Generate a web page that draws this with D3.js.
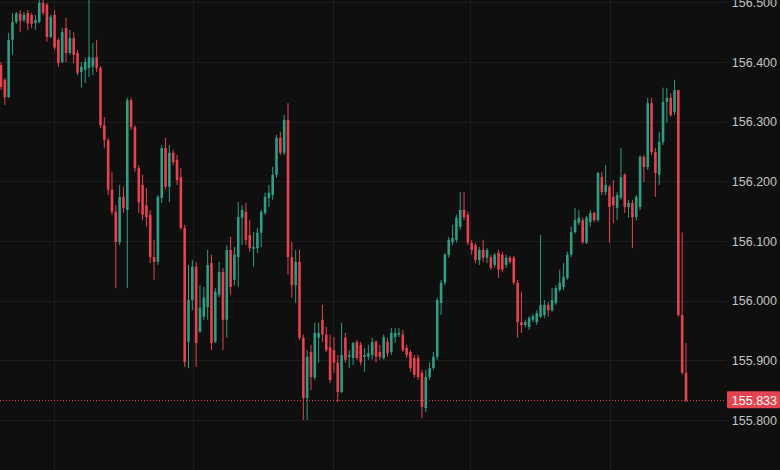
<!DOCTYPE html>
<html>
<head>
<meta charset="utf-8">
<script src="https://cdn.jsdelivr.net/npm/d3@7"></script>
<style>
  html, body { margin: 0; padding: 0; background: #0f0f0f; }
  svg { display: block; }
</style>
</head>
<body>
<svg id="chart" width="780" height="470"></svg>
<script>
// ---- data (USD/JPY style intraday candles) ----
const opens = [
156.395,156.370,156.341,156.437,156.467,156.481,156.470,156.482,156.479,156.465,
156.467,156.499,156.496,156.442,156.479,156.437,156.400,156.457,156.415,156.440,
156.415,156.383,156.387,156.390,156.392,156.408,156.390,156.294,156.269,156.186,
156.149,156.098,156.174,156.152,156.336,156.291,156.222,156.194,156.160,156.144,
156.073,156.065,156.172,156.256,156.191,156.248,156.236,156.207,156.122,155.931,
156.001,156.057,155.948,155.973,155.989,156.063,155.931,156.010,156.048,155.968,
156.085,156.035,156.073,156.139,156.149,156.110,156.087,156.088,156.114,156.147,
156.172,156.177,156.211,156.273,156.248,156.303,156.073,156.026,156.065,155.938,
155.837,155.914,155.871,155.938,155.968,155.943,155.922,155.917,155.896,155.847,
155.938,155.906,155.904,155.931,155.926,155.906,155.906,155.909,155.931,155.914,
155.904,155.931,155.914,155.939,155.943,155.943,155.921,155.914,155.904,155.904,
155.879,155.820,155.872,155.887,155.906,155.996,156.030,156.077,156.098,156.102,
156.124,156.152,156.144,156.097,156.093,156.068,156.085,156.072,156.073,156.060,
156.080,156.077,156.060,156.072,156.072,156.030,155.964,155.959,155.956,155.968,
155.964,155.973,155.976,155.993,155.984,155.996,156.018,156.023,156.038,156.077,
156.115,156.130,156.135,156.097,156.132,156.147,156.135,156.207,156.182,156.191,
156.174,156.155,156.172,156.211,156.157,156.164,156.140,156.157,156.241,156.224,
156.331,156.249,156.211,156.266,156.333,156.340,156.316,156.353,155.976,155.879
];
const highs = [
156.400,156.373,156.449,156.482,156.484,156.487,156.484,156.487,156.482,156.479,
156.504,156.504,156.499,156.479,156.487,156.440,156.457,156.474,156.454,156.450,
156.420,156.400,156.407,156.504,156.432,156.437,156.393,156.308,156.273,156.216,
156.160,156.194,156.191,156.340,156.340,156.294,156.227,156.211,156.189,156.152,
156.102,156.177,156.261,156.273,156.261,156.253,156.244,156.222,156.127,156.060,
156.068,156.065,156.026,156.023,156.085,156.077,156.021,156.065,156.055,156.093,
156.107,156.090,156.165,156.160,156.164,156.135,156.115,156.122,156.152,156.181,
156.194,156.224,156.278,156.283,156.311,156.331,156.098,156.085,156.085,155.943,
155.917,155.926,155.963,155.963,155.993,155.956,155.943,155.939,155.909,155.963,
155.946,155.917,155.931,155.934,155.931,155.921,155.926,155.938,155.934,155.926,
155.943,155.938,155.954,155.954,155.954,155.951,155.926,155.917,155.909,155.909,
155.884,155.884,155.897,155.914,156.005,156.035,156.080,156.107,156.127,156.144,
156.182,156.182,156.149,156.102,156.097,156.090,156.102,156.088,156.077,156.080,
156.085,156.082,156.077,156.075,156.075,156.035,156.015,155.968,155.974,155.978,
155.984,156.110,156.001,155.998,156.021,156.026,156.052,156.063,156.082,156.124,
156.155,156.152,156.139,156.142,156.152,156.149,156.216,156.216,156.227,156.194,
156.202,156.182,156.256,156.214,156.169,156.169,156.177,156.244,156.244,156.340,
156.340,156.256,156.283,156.357,156.357,156.348,156.370,156.353,156.114,155.929
];
const lows = [
156.353,156.328,156.340,156.412,156.464,156.450,156.467,156.454,156.457,156.454,
156.465,156.479,156.434,156.440,156.420,156.392,156.398,156.400,156.412,156.398,
156.378,156.357,156.365,156.375,156.378,156.383,156.289,156.256,156.177,156.144,
156.021,156.093,156.147,156.021,156.286,156.216,156.147,156.135,156.124,156.063,
156.035,156.060,156.164,156.186,156.165,156.227,156.194,156.119,155.889,155.887,
155.984,155.889,155.946,155.968,155.968,155.917,155.929,156.006,155.917,155.938,
156.010,156.026,156.023,156.093,156.093,156.082,156.057,156.080,156.090,156.144,
156.157,156.169,156.206,156.244,156.244,156.043,156.005,155.996,155.934,155.800,
155.800,155.850,155.867,155.896,155.931,155.914,155.862,155.879,155.830,155.845,
155.896,155.887,155.892,155.901,155.892,155.881,155.901,155.901,155.897,155.901,
155.901,155.906,155.909,155.929,155.939,155.914,155.904,155.881,155.871,155.867,
155.803,155.813,155.867,155.884,155.901,155.976,156.026,156.072,156.093,156.097,
156.119,156.135,156.093,156.077,156.063,156.060,156.065,156.063,156.052,156.055,
156.038,156.048,156.055,156.062,156.026,155.938,155.946,155.956,155.951,155.964,
155.959,155.971,155.971,155.973,155.981,155.993,156.015,156.018,156.035,156.073,
156.112,156.127,156.095,156.095,156.124,156.132,156.132,156.177,156.177,156.097,
156.130,156.135,156.169,156.147,156.139,156.088,156.135,156.152,156.199,156.219,
156.244,156.174,156.194,156.261,156.298,156.308,156.311,155.973,155.876,155.830
];
const closes = [
156.358,156.341,156.437,156.467,156.481,156.469,156.479,156.465,156.464,156.470,
156.499,156.482,156.442,156.476,156.424,156.398,156.450,156.415,156.440,156.412,
156.382,156.392,156.400,156.408,156.407,156.390,156.294,156.269,156.186,156.149,
156.098,156.174,156.155,156.336,156.291,156.222,156.165,156.144,156.140,156.073,
156.065,156.174,156.256,156.191,156.248,156.232,156.202,156.122,155.897,156.001,
156.057,155.929,155.988,156.005,156.060,155.929,156.015,156.048,155.968,156.085,
156.023,156.077,156.140,156.152,156.102,156.088,156.090,156.114,156.149,156.174,
156.181,156.211,156.273,156.248,156.303,156.073,156.026,156.065,155.938,155.837,
155.906,155.872,155.946,155.946,155.943,155.917,155.867,155.896,155.847,155.909,
155.901,155.909,155.929,155.904,155.897,155.909,155.912,155.931,155.906,155.906,
155.939,155.912,155.946,155.946,155.946,155.917,155.909,155.887,155.876,155.872,
155.822,155.872,155.887,155.906,156.001,156.030,156.077,156.102,156.105,156.139,
156.152,156.140,156.097,156.085,156.068,156.085,156.072,156.085,156.055,156.077,
156.052,156.052,156.072,156.065,156.030,155.964,155.959,155.964,155.971,155.974,
155.979,155.993,155.993,155.984,156.001,156.021,156.030,156.040,156.077,156.115,
156.135,156.139,156.098,156.139,156.147,156.135,156.214,156.182,156.194,156.157,
156.160,156.177,156.207,156.157,156.164,156.140,156.174,156.241,156.224,156.331,
156.249,156.214,156.266,156.333,156.340,156.311,156.353,155.976,155.879,155.833
];
const priceTicks = [156.5, 156.4, 156.3, 156.2, 156.1, 156.0, 155.9, 155.8];
const lastPrice = 155.833;
// time grid lines fall at these candle positions
const timeGridIdx = [13.8, 50.2, 86.8, 122.5, 159.1];

// ---- drawing ----
const W = 780, H = 470;
const svg = d3.select("#chart");
const bg = "#0f0f0f";
const upColor = "#2f9c83";
const downColor = "#e4434f";
const gridColor = "#1d1d1d";

svg.append("rect").attr("width", W).attr("height", H).attr("fill", bg);

const n = opens.length;
const candles = d3.range(n).map(i => ({i, o: opens[i], h: highs[i], l: lows[i], c: closes[i]}));

const x = d3.scaleLinear().domain([0, n - 1]).range([1, 686]);
const y = d3.scaleLinear().domain([155.8, 156.4]).range([420, 62]);

const plotRight = 726;

// grid
const g = svg.append("g");
g.selectAll("line.h").data(priceTicks).join("line")
  .attr("x1", 0).attr("x2", plotRight)
  .attr("y1", d => Math.round(y(d)) + 0.5).attr("y2", d => Math.round(y(d)) + 0.5)
  .attr("stroke", gridColor).attr("stroke-width", 1);
g.selectAll("line.v").data(timeGridIdx).join("line")
  .attr("x1", d => Math.round(x(d)) + 0.5).attr("x2", d => Math.round(x(d)) + 0.5)
  .attr("y1", 0).attr("y2", H)
  .attr("stroke", gridColor).attr("stroke-width", 1);

// last price dotted line
svg.append("line")
  .attr("x1", 0).attr("x2", plotRight)
  .attr("y1", Math.round(y(lastPrice)) + 0.5).attr("y2", Math.round(y(lastPrice)) + 0.5)
  .attr("stroke", downColor).attr("stroke-width", 1).attr("stroke-dasharray", "1,2");

// candles
const bodyW = 2.6;
const cg = svg.append("g");
cg.selectAll("line.wick").data(candles).join("line")
  .attr("x1", d => x(d.i)).attr("x2", d => x(d.i))
  .attr("y1", d => y(d.h)).attr("y2", d => y(d.l))
  .attr("stroke", d => d.c >= d.o ? upColor : downColor)
  .attr("stroke-width", 1);
cg.selectAll("rect.body").data(candles).join("rect")
  .attr("x", d => x(d.i) - bodyW / 2)
  .attr("width", bodyW)
  .attr("y", d => y(Math.max(d.o, d.c)))
  .attr("height", d => Math.max(1, Math.abs(y(d.o) - y(d.c))))
  .attr("fill", d => d.c >= d.o ? upColor : downColor);

// right price axis
const axis = d3.axisRight(y).tickValues(priceTicks).tickFormat(d3.format(".3f")).tickSize(0).tickPadding(0);
const ax = svg.append("g").attr("transform", `translate(${W},0)`).call(axis);
ax.select(".domain").remove();
ax.selectAll("text")
  .attr("x", -3)
  .attr("text-anchor", "end")
  .attr("fill", "#c4c4c4")
  .attr("font-family", "'Liberation Sans', Arial, sans-serif")
  .attr("font-size", 12.5);

// last price label
const ly = y(lastPrice);
svg.append("rect")
  .attr("x", 727).attr("y", ly - 9).attr("width", 53).attr("height", 17)
  .attr("fill", downColor).attr("rx", 1);
svg.append("text")
  .attr("x", 777).attr("y", ly)
  .attr("dy", "0.35em")
  .attr("text-anchor", "end")
  .attr("fill", "#ffffff")
  .attr("font-family", "'Liberation Sans', Arial, sans-serif")
  .attr("font-size", 12.5)
  .text(d3.format(".3f")(lastPrice));
</script>
</body>
</html>
